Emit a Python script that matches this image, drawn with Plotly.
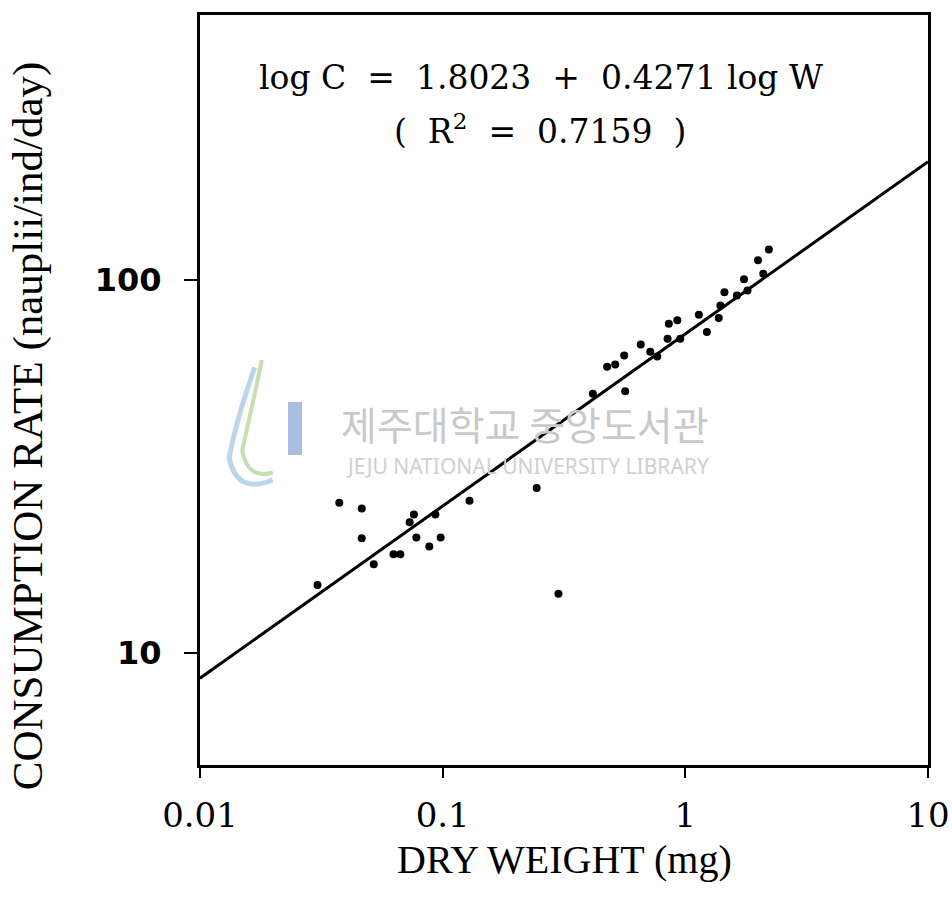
import plotly.graph_objects as go

# Data (dry weight in mg, consumption in nauplii/ind/day)
dry_weight = [0.0305, 0.0375, 0.0464, 0.0464, 0.0520, 0.0627, 0.0669, 0.0731,
              0.0761, 0.0779, 0.0881, 0.0933, 0.0981, 0.129, 0.244, 0.300,
              0.416, 0.565, 0.476, 0.514, 0.560, 0.655, 0.717, 0.766, 0.845,
              0.855, 0.927, 0.953, 1.137, 1.227, 1.373, 1.395, 1.449, 1.632,
              1.804, 1.745, 2.095, 1.993, 2.209]
consumption = [15.2, 25.3, 24.4, 20.3, 17.3, 18.4, 18.4, 22.4,
               23.5, 20.4, 19.3, 23.5, 20.4, 25.6, 27.7, 14.4,
               49.6, 50.4, 58.6, 59.4, 62.8, 67.2, 64.3, 62.4, 69.7,
               76.4, 78.1, 69.7, 80.8, 72.6, 79.2, 85.6, 92.9, 91.0,
               93.9, 100.6, 104.1, 113.1, 120.9]

# Regression line as drawn (end points)
fit_x = [0.01, 10]
fit_y = [8.55, 208]

x_ticks = [0.01, 0.1, 1, 10]
x_ticktext = ["0.01", "0.1", "1", "10"]
y_ticks = [10, 100]
y_ticktext = ["10", "100"]

equation_text = "log C&nbsp; = &nbsp;1.8023&nbsp; + &nbsp;0.4271 log W"
r2_text = "(&nbsp; R<sup>2</sup>&nbsp; = &nbsp;0.7159&nbsp; )"
x_title = "DRY WEIGHT (mg)"
y_title = "CONSUMPTION RATE (nauplii/ind/day)"

fig = go.Figure()
fig.add_trace(go.Scatter(x=fit_x, y=fit_y, mode="lines",
                         line=dict(color="black", width=3), showlegend=False))
fig.add_trace(go.Scatter(x=dry_weight, y=consumption, mode="markers",
                         marker=dict(color="black", size=8), showlegend=False))

axis_common = dict(showgrid=False, zeroline=False, showline=True, linecolor="black",
                   linewidth=3, mirror=True, ticks="outside", tickcolor="black",
                   tickwidth=2, automargin=False)

fig.update_xaxes(type="log", range=[-2, 1], tickvals=x_ticks, ticktext=x_ticktext,
                 ticklen=10, ticklabelstandoff=8,
                 tickfont=dict(family="DejaVu Serif", size=34, color="black"),
                 **axis_common)
fig.update_yaxes(type="log", range=[0.699, 2.712], tickvals=y_ticks, ticktext=y_ticktext,
                 ticklen=13, ticklabelstandoff=16,
                 tickfont=dict(family="DejaVu Sans", size=32, color="black", weight="bold"),
                 **axis_common)

annotations = [
    dict(text=equation_text, x=0.468, y=0.917, xref="paper", yref="paper",
         showarrow=False, xanchor="center", yanchor="middle",
         font=dict(family="DejaVu Serif", size=33, color="black")),
    dict(text=r2_text, x=0.467, y=0.847, xref="paper", yref="paper",
         showarrow=False, xanchor="center", yanchor="middle",
         font=dict(family="DejaVu Serif", size=33, color="black")),
    dict(text=x_title, x=0.501, y=-0.126, xref="paper", yref="paper",
         showarrow=False, xanchor="center", yanchor="middle",
         font=dict(family="Liberation Serif", size=40, color="black")),
    dict(text=y_title, x=-0.236, y=0.452, xref="paper", yref="paper",
         showarrow=False, xanchor="center", yanchor="middle", textangle=-90,
         font=dict(family="Liberation Serif", size=43, color="black")),
    # library watermark
    dict(text="제주대학교 중앙도서관", x=0.447, y=0.456, xref="paper", yref="paper",
         showarrow=False, xanchor="center", yanchor="middle",
         font=dict(family="Noto Sans CJK KR", size=39, color="#c9c9c9")),
    dict(text="JEJU NATIONAL UNIVERSITY LIBRARY", x=0.45, y=0.399, xref="paper", yref="paper",
         showarrow=False, xanchor="center", yanchor="middle",
         font=dict(family="Noto Sans", size=21, color="#d0d0d0")),
]

shapes = [
    dict(type="rect", xref="paper", yref="paper", x0=(288 - 200) / 728, x1=(302 - 200) / 728,
         y0=(765 - 455) / 750, y1=(765 - 402) / 750, fillcolor="#a9bde0",
         line=dict(width=0), layer="below"),
    dict(type="path", xref="paper", yref="paper", layer="below",
         path="M 0.075,0.53 Q 0.05,0.46 0.04,0.41 Q 0.05,0.36 0.1,0.38",
         line=dict(color="#b9d7ea", width=5)),
    dict(type="path", xref="paper", yref="paper", layer="below",
         path="M 0.085,0.54 Q 0.07,0.47 0.058,0.42 Q 0.065,0.38 0.1,0.39",
         line=dict(color="#c6dfb0", width=4)),
]

fig.update_layout(
    width=952, height=898,
    margin=dict(l=200, r=24, t=15, b=133),
    paper_bgcolor="white", plot_bgcolor="white",
    annotations=annotations, shapes=shapes,
    showlegend=False,
)

fig.write_html("out.html")
